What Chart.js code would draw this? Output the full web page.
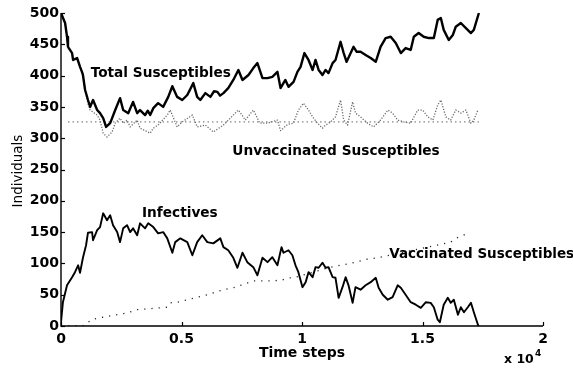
<!DOCTYPE html>
<html>
<head>
<meta charset="utf-8">
<title>Susceptibles and infectives over time</title>
<script src="https://cdn.jsdelivr.net/npm/chart.js@4.4.1/dist/chart.umd.min.js"></script>
<style>
  html, body { margin:0; padding:0; background:#fff; }
</style>
</head>
<body>
<canvas id="ctx" width="573" height="368"></canvas>
<script>
// [time step, individuals]
var totalSusceptibles = [[0,500],[170,484],[250,462],[290,446],[460,436],[500,425],[670,428],[790,414],[870,406],[910,401],[1000,377],[1120,361],[1210,350],[1330,361],[1500,345],[1620,340],[1750,332],[1870,318],[2040,324],[2250,345],[2450,364],[2580,345],[2790,340],[2990,358],[3160,340],[3280,345],[3490,337],[3600,344],[3700,337],[3830,348],[4030,356],[4240,350],[4450,366],[4620,383],[4820,366],[5030,361],[5240,369],[5490,388],[5650,366],[5780,361],[5990,372],[6200,366],[6350,375],[6490,374],[6600,368],[6740,372],[6940,380],[7150,393],[7360,409],[7530,393],[7780,401],[7980,412],[8150,420],[8360,396],[8570,396],[8770,398],[8980,406],[9110,380],[9310,393],[9440,382],[9650,390],[9810,406],[9940,414],[10100,436],[10270,425],[10440,409],[10560,425],[10690,409],[10850,401],[10980,409],[11100,404],[11270,420],[11390,425],[11600,454],[11730,436],[11850,422],[12020,436],[12140,446],[12270,438],[12430,438],[12640,433],[12850,428],[13060,422],[13260,446],[13470,460],[13680,462],[13890,452],[14100,436],[14300,444],[14510,441],[14640,462],[14840,468],[15050,462],[15260,460],[15470,460],[15630,489],[15760,492],[15880,473],[16090,457],[16260,465],[16380,478],[16590,484],[16800,476],[17010,468],[17130,473],[17340,500]];

var unvaccinated = [[0,500],[170,484],[250,462],[290,446],[460,436],[500,425],[670,428],[790,414],[870,406],[910,401],[1000,377],[1120,355],[1210,345],[1500,337],[1620,329],[1750,308],[1910,302],[2120,310],[2250,324],[2450,332],[2580,324],[2740,329],[2870,318],[3160,329],[3280,316],[3490,312],[3700,308],[3830,316],[4030,321],[4240,330],[4410,337],[4530,345],[4820,318],[5030,326],[5450,337],[5650,318],[5990,321],[6320,310],[6740,321],[7150,337],[7360,345],[7650,329],[7980,345],[8250,324],[8570,324],[8980,329],[9110,312],[9400,322],[9650,324],[9850,345],[10060,356],[10270,345],[10440,334],[10640,324],[10850,316],[10980,321],[11190,326],[11390,334],[11600,361],[11730,329],[11890,321],[12100,358],[12220,340],[12430,334],[12720,324],[12970,318],[13260,329],[13560,345],[13760,340],[13970,329],[14220,326],[14510,324],[14800,345],[15010,345],[15220,334],[15430,329],[15630,353],[15760,361],[15970,334],[16170,329],[16380,345],[16590,340],[16800,345],[17010,324],[17130,329],[17300,345]];

var infectives = [[0,6],[80,38],[250,65],[460,78],[580,86],[710,97],[790,85],[910,109],[1040,129],[1120,149],[1290,150],[1330,137],[1500,153],[1620,158],[1750,180],[1910,169],[2040,177],[2160,161],[2330,150],[2450,134],[2580,156],[2740,161],[2870,150],[2990,156],[3160,145],[3280,164],[3490,156],[3620,164],[3830,158],[4030,148],[4240,150],[4410,140],[4620,117],[4740,134],[4950,140],[5240,134],[5450,113],[5650,134],[5860,145],[6070,134],[6320,132],[6610,140],[6740,126],[6940,121],[7150,109],[7320,93],[7530,117],[7730,102],[7980,94],[8150,81],[8360,109],[8570,102],[8770,110],[8980,97],[9150,126],[9230,117],[9440,121],[9600,113],[9730,97],[9850,86],[10020,62],[10150,70],[10270,86],[10440,78],[10560,94],[10690,93],[10850,101],[10980,93],[11100,94],[11270,78],[11390,77],[11520,45],[11680,62],[11810,78],[11930,65],[12100,37],[12220,62],[12430,58],[12640,65],[12850,70],[13060,77],[13180,61],[13350,50],[13560,42],[13760,46],[13970,65],[14100,61],[14300,50],[14510,38],[14720,34],[14930,29],[15140,38],[15340,37],[15470,30],[15630,10],[15720,6],[15880,34],[16050,45],[16170,37],[16300,42],[16470,18],[16590,30],[16720,22],[16880,30],[17010,37],[17130,22],[17300,2],[17340,0]];

var vaccinated = [[0,0],[300,0],[600,0],[900,0],[1080,5],[1330,11],[2740,21],[3160,26],[4410,30],[4530,37],[4820,38],[5650,46],[6070,50],[6320,53],[6740,58],[7150,61],[7530,66],[7980,72],[8570,72],[9110,73],[9520,77],[9650,77],[11190,94],[12020,100],[12720,107],[13140,109],[16170,134],[16380,140],[16880,148]];

// unvaccinated equilibrium level
var equilibrium = [[290,326],[17340,326]];

var xTicks = [0, 5000, 10000, 15000, 20000];
var yTicks = [0, 50, 100, 150, 200, 250, 300, 350, 400, 450, 500];

function pts(a) { return a.map(function(p){ return {x:p[0], y:p[1]}; }); }

var FONT = '"DejaVu Sans", sans-serif';

var decor = {
  id: 'decor',
  afterDraw: function(chart) {
    var c = chart.ctx, a = chart.chartArea, xs = chart.scales.x, ys = chart.scales.y;
    c.save();
    // axes, ticks pointing inward
    c.strokeStyle = '#000';
    c.lineWidth = 1.4;
    c.beginPath();
    c.moveTo(a.left, a.top); c.lineTo(a.left, a.bottom); c.lineTo(a.right, a.bottom);
    c.stroke();
    c.lineWidth = 1.2;
    xTicks.forEach(function(v){
      var px = Math.round(xs.getPixelForValue(v)) + 0.5;
      c.beginPath(); c.moveTo(px, a.bottom); c.lineTo(px, a.bottom - 4); c.stroke();
    });
    yTicks.forEach(function(v){
      var py = Math.round(ys.getPixelForValue(v)) + 0.5;
      c.beginPath(); c.moveTo(a.left, py); c.lineTo(a.left + 4, py); c.stroke();
    });

    c.fillStyle = '#000';
    c.textBaseline = 'alphabetic';
    c.textAlign = 'left';
    c.font = 'bold 13.7px ' + FONT;
    [['Total Susceptibles', 1230, 397],
     ['Unvaccinated Susceptibles', 7110, 273],
     ['Infectives', 3360, 174.5]].forEach(function(n){
      c.fillText(n[0], xs.getPixelForValue(n[1]), ys.getPixelForValue(n[2]));
    });
    c.font = 'bold 13.5px ' + FONT;
    c.fillText('Vaccinated Susceptibles', xs.getPixelForValue(13620), ys.getPixelForValue(108.6));

    // axis titles
    c.font = 'bold 14px ' + FONT;
    c.textAlign = 'center';
    c.fillText('Time steps', (a.left + a.right) / 2, 357);
    c.textAlign = 'left';
    c.font = 'bold 12.5px ' + FONT;
    c.fillText('x 10', 504, 363);
    c.font = 'bold 9px ' + FONT;
    c.fillText('4', 535, 356);

    c.translate(22, 171);
    c.rotate(-Math.PI / 2);
    c.textAlign = 'center';
    c.font = '13.5px ' + FONT;
    c.fillText('Individuals', 0, 0);
    c.restore();
  }
};

new Chart(document.getElementById('ctx'), {
  type: 'line',
  data: {
    datasets: [
      { label: 'Total Susceptibles', data: pts(totalSusceptibles), borderColor: '#000', borderWidth: 2.4, order: 1 },
      { label: 'Infectives', data: pts(infectives), borderColor: '#000', borderWidth: 1.9, order: 2 },
      { label: 'Unvaccinated Susceptibles', data: pts(unvaccinated), borderColor: '#6a6a6a', borderWidth: 1.3, borderDash: [1.2, 1.6], order: 3 },
      { label: 'Equilibrium', data: pts(equilibrium), borderColor: '#666', borderWidth: 1, borderDash: [1.5, 3], order: 4 },
      { label: 'Vaccinated Susceptibles', data: pts(vaccinated), borderColor: '#222', borderWidth: 1.3, borderDash: [1.2, 6], order: 5 }
    ]
  },
  options: {
    responsive: false,
    animation: false,
    devicePixelRatio: 1,
    layout: { padding: { left: 0, right: 30, top: 13, bottom: 0 } },
    elements: { point: { radius: 0 }, line: { tension: 0, borderJoinStyle: 'round' } },
    plugins: { legend: { display: false }, tooltip: { enabled: false } },
    scales: {
      x: {
        type: 'linear', min: 0, max: 20000,
        afterFit: function(s){ s.height = 42; },
        afterBuildTicks: function(s){ s.ticks = xTicks.map(function(v){ return {value:v}; }); },
        grid: { display: false, drawTicks: false },
        border: { display: false },
        ticks: {
          padding: 5, color: '#000', maxRotation: 0,
          font: { family: FONT, size: 14, weight: 'bold' },
          callback: function(v){ return String(v / 10000); }
        }
      },
      y: {
        min: 0, max: 500,
        afterFit: function(s){ s.width = 61; },
        afterBuildTicks: function(s){ s.ticks = yTicks.map(function(v){ return {value:v}; }); },
        grid: { display: false, drawTicks: false },
        border: { display: false },
        ticks: {
          padding: 2, color: '#000',
          font: { family: FONT, size: 14, weight: 'bold' }
        }
      }
    }
  },
  plugins: [decor]
});
</script>
</body>
</html>
